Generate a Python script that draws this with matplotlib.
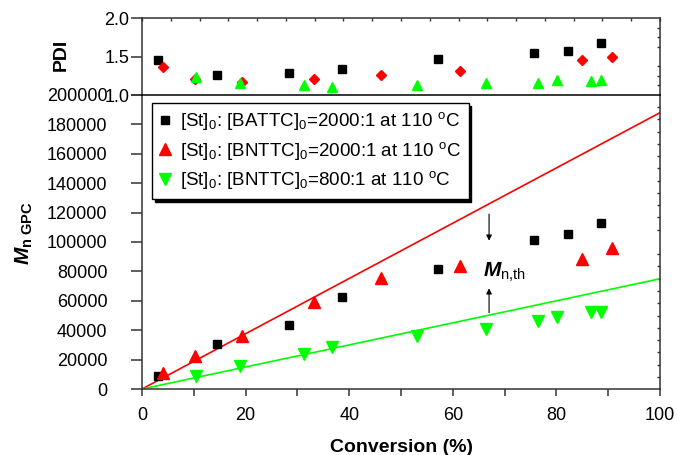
import numpy as np
import matplotlib
matplotlib.use('Agg')
import matplotlib.pyplot as plt

plt.rcParams['font.family'] = 'sans-serif'
plt.rcParams['font.sans-serif'] = ['Liberation Sans', 'DejaVu Sans']
plt.rcParams['mathtext.fontset'] = 'custom'
plt.rcParams['mathtext.rm'] = 'Liberation Sans'
plt.rcParams['mathtext.it'] = 'Liberation Sans:italic'
plt.rcParams['mathtext.bf'] = 'Liberation Sans:bold'
plt.rcParams['mathtext.bfit'] = 'Liberation Sans:italic:bold'

# conversion (%), Mn by GPC and PDI for each run
batt_conv = [3.0, 14.5, 28.4, 38.7, 57.1, 75.7, 82.3, 88.7]
batt_mn = [9000, 30400, 43300, 62800, 81800, 101300, 105600, 112800]
batt_pdi = [1.45, 1.26, 1.29, 1.34, 1.47, 1.54, 1.57, 1.68]

bntt2000_conv = [4.1, 10.2, 19.4, 33.2, 46.2, 61.3, 85.0, 90.8]
bntt2000_mn = [10700, 22400, 36000, 59400, 75200, 83500, 88700, 95800]
bntt2000_pdi = [1.36, 1.21, 1.17, 1.21, 1.26, 1.31, 1.46, 1.49]

bntt800_conv = [10.4, 18.9, 31.3, 36.7, 53.0, 66.4, 76.4, 80.1, 86.6, 88.6]
bntt800_mn = [8800, 15900, 24000, 28600, 36300, 41100, 46300, 48800, 52300, 52300]
bntt800_pdi = [1.24, 1.15, 1.13, 1.10, 1.13, 1.16, 1.16, 1.19, 1.18, 1.20]

# theoretical Mn lines
th_conv = [0, 100]
th_2000 = [0, 188000]
th_800 = [0, 75000]

labels = [r'[St]$_0$: [BATTC]$_0$=2000:1 at 110 $^{\rm o}$C',
          r'[St]$_0$: [BNTTC]$_0$=2000:1 at 110 $^{\rm o}$C',
          r'[St]$_0$: [BNTTC]$_0$=800:1 at 110 $^{\rm o}$C']

RED = '#ff0000'
GREEN = '#00ff00'
AXC = '#333333'

W, H = 677, 455
fig = plt.figure(figsize=(W/100, H/100), dpi=100)
x0, x1 = 142, 660
ax = fig.add_axes([x0/W, (H-389)/H, (x1-x0)/W, (389-95)/H])
axp = fig.add_axes([x0/W, (H-95)/H, (x1-x0)/W, (95-18)/H])

# ---- PDI panel
axp.plot(batt_conv, batt_pdi, 's', color='k', ms=5.5, ls='none')
axp.plot(bntt2000_conv, bntt2000_pdi, 'D', color=RED, ms=5.5, ls='none')
axp.plot(bntt800_conv, bntt800_pdi, '^', color=GREEN, ms=7.5, ls='none')
axp.set_xlim(0, 100)
axp.set_ylim(1.0, 2.0)
axp.set_yticks([1.0, 1.5, 2.0])
axp.set_yticklabels(['1.0', '1.5', '2.0'])
axp.tick_params(axis='y', which='major', direction='out', length=8, width=1.1,
                pad=1, labelsize=13, color=AXC)
axp.set_xticks(np.linspace(0, 100, 19))
axp.tick_params(axis='x', which='major', bottom=False, top=True, labelbottom=False,
                direction='in', length=2.5, width=1, color=AXC)
axp.set_yticks(np.linspace(1.0, 2.0, 9)[1:-1], minor=True)
axp.tick_params(axis='y', which='minor', left=False, right=True, direction='in',
                length=2.5, width=1, color=AXC)
axp.set_ylabel('PDI', fontsize=14, fontweight='bold')
axp.yaxis.set_label_coords((70-x0)/(x1-x0), 0.52)
for s in axp.spines.values():
    s.set_color(AXC)
    s.set_linewidth(1.1)
axp.spines['bottom'].set_color('k')

# ---- Mn panel
ax.plot(th_conv, th_2000, '-', color=RED, lw=1.2)
ax.plot(th_conv, th_800, '-', color=GREEN, lw=1.2)
ax.plot(batt_conv, batt_mn, 's', color='k', ms=6, ls='none', label=labels[0])
ax.plot(bntt2000_conv, bntt2000_mn, '^', color=RED, ms=8.5, ls='none', label=labels[1])
ax.plot(bntt800_conv, bntt800_mn, 'v', color=GREEN, ms=8.5, ls='none', label=labels[2])
ax.set_xlim(0, 100)
ax.set_ylim(0, 200000)
ax.set_xticks(np.arange(0, 101, 20))
ax.set_xticks(np.arange(10, 100, 20), minor=True)
ax.set_yticks(np.arange(0, 200001, 20000))
ax.tick_params(axis='x', which='both', direction='out', length=5, width=1.1,
               labelsize=13, color=AXC, pad=8)
ax.tick_params(axis='y', which='major', direction='out', length=8, width=1.1,
               labelsize=13, color=AXC, pad=17)
ax.set_yticks(np.linspace(0, 200000, 25), minor=True)
ax.tick_params(axis='y', which='minor', left=False, right=True, direction='in',
               length=2.5, width=1, color=AXC)
ax.spines['top'].set_visible(False)
for s in ['left', 'bottom', 'right']:
    ax.spines[s].set_color(AXC)
    ax.spines[s].set_linewidth(1.1)

ax.set_xlabel('Conversion (%)', fontsize=14, fontweight='bold', labelpad=11)
ax.set_ylabel(r'$\mathbfit{M}_{\mathbf{n\ GPC}}$', fontsize=15)
ax.yaxis.set_label_coords((35-x0)/(x1-x0), 0.53)

# theoretical Mn marker with arrows from both lines
ax.text(65.8, 76200, r'$\mathbfit{M}_{\mathrm{n{,}th}}$', fontsize=15,
        ha='left', va='baseline')
ax.annotate('', xy=(67.0, 100900), xytext=(67.0, 119000),
            arrowprops=dict(arrowstyle='-|>', color='k', lw=0.8,
                            mutation_scale=8, shrinkA=0, shrinkB=0))
ax.annotate('', xy=(67.0, 68500), xytext=(67.0, 51900),
            arrowprops=dict(arrowstyle='-|>', color='k', lw=0.8,
                            mutation_scale=8, shrinkA=0, shrinkB=0))

leg = ax.legend(loc='upper left', bbox_to_anchor=((152-x0)/(x1-x0), (389-103)/294),
                borderaxespad=0, fontsize=13.5, frameon=True, fancybox=False,
                shadow={'color': 'k', 'alpha': 1}, handlelength=0.6,
                handletextpad=0.5, labelspacing=0.4, borderpad=0.4)
leg.get_frame().set_edgecolor('k')
leg.get_frame().set_linewidth(1.0)

fig.savefig('out.png', dpi=100)
